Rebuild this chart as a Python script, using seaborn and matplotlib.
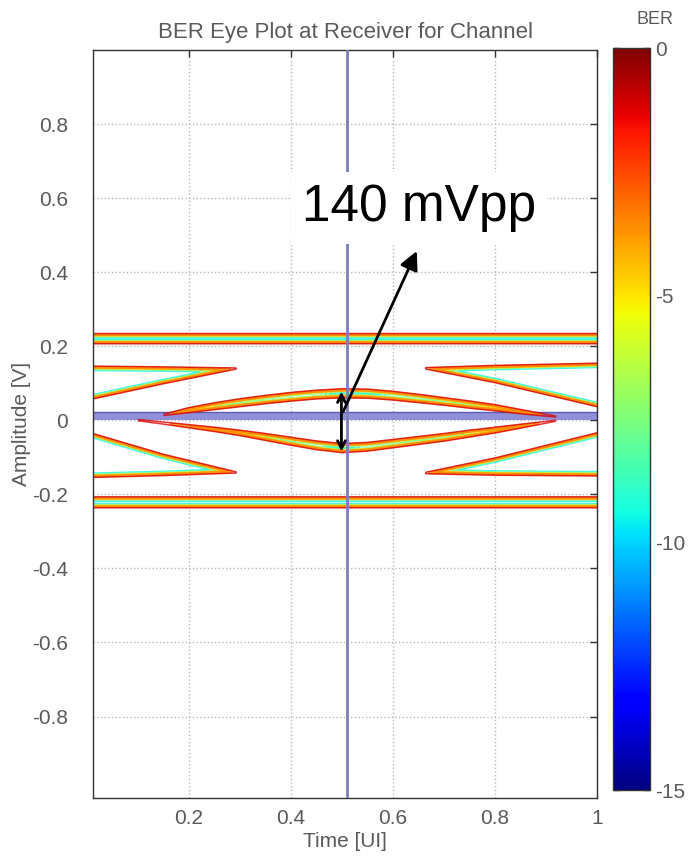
import numpy as np
import matplotlib
matplotlib.use("Agg")
import matplotlib.pyplot as plt
import seaborn as sns
from matplotlib.cm import ScalarMappable
from matplotlib.colors import Normalize

# ---- eye outline data (time in UI, amplitude in V) ----
# horizontal rails: (lower edge, upper edge)
rail_top = (0.205, 0.236)
rail_bot = (-0.238, -0.205)

# upper-left / lower-left wedges (closing at a tip near 0.29 UI)
ul_t = [-0.06, 0.012, 0.15, 0.294]
ul_lo = [0.052, 0.056, 0.097, 0.137]
ul_hi = [0.148, 0.148, 0.146, 0.143]

ll_t = [-0.06, 0.012, 0.15, 0.294]
ll_lo = [-0.156, -0.156, -0.151, -0.144]
ll_hi = [-0.030, -0.034, -0.090, -0.138]

# upper-right / lower-right wedges (opening from a tip near 0.66 UI)
ur_t = [0.663, 0.80, 1.00, 1.08]
ur_lo = [0.137, 0.100, 0.035, 0.025]
ur_hi = [0.144, 0.150, 0.156, 0.156]

lr_t = [0.663, 0.80, 1.00, 1.08]
lr_lo = [-0.146, -0.150, -0.152, -0.152]
lr_hi = [-0.139, -0.100, -0.032, -0.022]

# central eye: upper and lower crossing traces
lens_up_t = [0.150, 0.20, 0.25, 0.30, 0.35, 0.40, 0.45, 0.50, 0.55, 0.60,
             0.65, 0.70, 0.75, 0.80, 0.85, 0.92]
lens_up_hi = [0.018, 0.036, 0.049, 0.060, 0.069, 0.077, 0.083, 0.087, 0.086,
              0.080, 0.072, 0.063, 0.054, 0.044, 0.031, 0.013]
lens_up_lo = [0.011, 0.019, 0.027, 0.035, 0.043, 0.050, 0.056, 0.059, 0.058,
              0.053, 0.046, 0.039, 0.031, 0.024, 0.016, 0.007]

lens_dn_t = [0.100, 0.15, 0.20, 0.25, 0.30, 0.35, 0.40, 0.45, 0.50, 0.55,
             0.60, 0.65, 0.70, 0.75, 0.80, 0.85, 0.92]
lens_dn_hi = [0.004, -0.003, -0.010, -0.017, -0.025, -0.034, -0.044, -0.054,
              -0.061, -0.058, -0.050, -0.042, -0.034, -0.025, -0.017, -0.009,
              0.002]
lens_dn_lo = [-0.003, -0.012, -0.022, -0.032, -0.043, -0.056, -0.069, -0.081,
              -0.089, -0.085, -0.076, -0.067, -0.058, -0.047, -0.036, -0.023,
              -0.004]

# decision threshold band and sampling instant
zero_band = (0.0, 0.022)
sample_time = 0.51

# annotation values
eye_top, eye_bottom = 0.085, -0.092
label_text = "140 mVpp"

# axis ticks
x_ticks = [0.2, 0.4, 0.6, 0.8, 1.0]
x_labels = ["0.2", "0.4", "0.6", "0.8", "1"]
y_ticks = [-0.8, -0.6, -0.4, -0.2, 0.0, 0.2, 0.4, 0.6, 0.8]
y_labels = ["-0.8", "-0.6", "-0.4", "-0.2", "0", "0.2", "0.4", "0.6", "0.8"]
ber_ticks = [0, -5, -10, -15]
contour_levels = [-9.5, -7.6, -5.8, -4.3, -3.4, -1.2]
contour_widths = [1.0, 1.0, 1.0, 2.0, 2.0, 1.1]

sns.set_theme(style="white")
plt.rcParams["font.family"] = ["Liberation Sans", "DejaVu Sans"]

fig = plt.figure(figsize=(6.92, 8.6), dpi=100)
ax = fig.add_axes([93 / 692, 1 - 798 / 860, (597 - 93) / 692, (798 - 50) / 860])
cax = fig.add_axes([613 / 692, 1 - 790 / 860, 37 / 692, (790 - 48) / 860])

# ---- BER field on a time/amplitude grid ----
tt = np.linspace(-0.06, 1.08, 1300)
vv = np.linspace(-0.32, 0.32, 1000)
T, V = np.meshgrid(tt, vv)
ui_to_v = 510.0 / 371.0  # equal screen distance in both directions


def band_depth(t_pts, lo_pts, hi_pts):
    lo = np.interp(T, t_pts, lo_pts)
    hi = np.interp(T, t_pts, hi_pts)
    d = np.minimum(V - lo, hi - V)
    d = np.minimum(d, (T - t_pts[0]) * ui_to_v)
    d = np.minimum(d, (t_pts[-1] - T) * ui_to_v)
    return np.clip(d, 0, None)


full_t = [-0.06, 1.08]
shapes = [
    (full_t, [rail_top[0]] * 2, [rail_top[1]] * 2),
    (full_t, [rail_bot[0]] * 2, [rail_bot[1]] * 2),
    (ul_t, ul_lo, ul_hi),
    (ll_t, ll_lo, ll_hi),
    (ur_t, ur_lo, ur_hi),
    (lr_t, lr_lo, lr_hi),
    (lens_up_t, lens_up_lo, lens_up_hi),
    (lens_dn_t, lens_dn_lo, lens_dn_hi),
]
depth = np.zeros_like(T)
for s in shapes:
    depth = np.maximum(depth, band_depth(*s))
ber = -700.0 * depth

ax.grid(True, linestyle=":", color="#b8b8b8", linewidth=1.0)
ax.set_axisbelow(True)

ax.axhspan(zero_band[0], zero_band[1], color="#7d7dd4", alpha=0.85, lw=0,
           zorder=1)
ax.axhline(zero_band[1], color="#5a5ab4", lw=1.0, zorder=1.1)

ax.contour(T, V, ber, levels=contour_levels, cmap="jet", vmin=-15, vmax=0,
           linewidths=contour_widths, alpha=0.8, zorder=2)

ax.axvline(sample_time, color="#7c80bb", lw=2.0, zorder=3)

ax.set_xlim(0.012, 1.0)
ax.set_ylim(-1.02, 1.0)
ax.set_xticks(x_ticks)
ax.set_xticklabels(x_labels)
ax.set_yticks(y_ticks)
ax.set_yticklabels(y_labels)
ax.tick_params(direction="in", length=5, width=1, top=True, right=True,
               labelsize=15, labelcolor="#5a5a5a", color="#333333")
ax.tick_params(axis="y", pad=18)
ax.tick_params(axis="x", pad=8)
for sp in ax.spines.values():
    sp.set_color("#333333")
    sp.set_linewidth(1.0)

ax.set_xlabel("Time [UI]", fontsize=15, color="#5a5a5a", labelpad=3)
ax.set_ylabel("Amplitude [V]", fontsize=15, color="#5a5a5a", labelpad=1)
ax.set_title("BER Eye Plot at Receiver for Channel", fontsize=16,
             color="#5a5a5a", pad=9)

# eye-height annotation
ax.annotate("", xy=(0.499, eye_bottom), xytext=(0.499, eye_top),
            arrowprops=dict(arrowstyle="<->", lw=2, color="black",
                            mutation_scale=14), zorder=5)
ax.annotate("", xy=(0.649, 0.464), xytext=(0.50, 0.016),
            arrowprops=dict(arrowstyle="-|>", lw=2, color="black",
                            mutation_scale=28), zorder=5)
ax.text(0.651, 0.574, label_text, fontsize=37, color="black",
        ha="center", va="center", zorder=6,
        bbox=dict(facecolor="white", edgecolor="none", pad=8))

# colorbar
sm = ScalarMappable(norm=Normalize(vmin=-15, vmax=0), cmap="jet")
cb = fig.colorbar(sm, cax=cax, ticks=ber_ticks)
cb.ax.tick_params(direction="in", length=5, width=1, left=True, right=True,
                  labelsize=15, labelcolor="#5a5a5a", color="#333333", pad=4)
cb.outline.set_edgecolor("#333333")
cb.outline.set_linewidth(1.0)
cb.ax.set_yticklabels([str(v) for v in ber_ticks])
fig.text(655 / 692, 1 - 20 / 860, "BER", fontsize=13, color="#5a5a5a",
         ha="center", va="center")

fig.savefig("out.png", dpi=100)
